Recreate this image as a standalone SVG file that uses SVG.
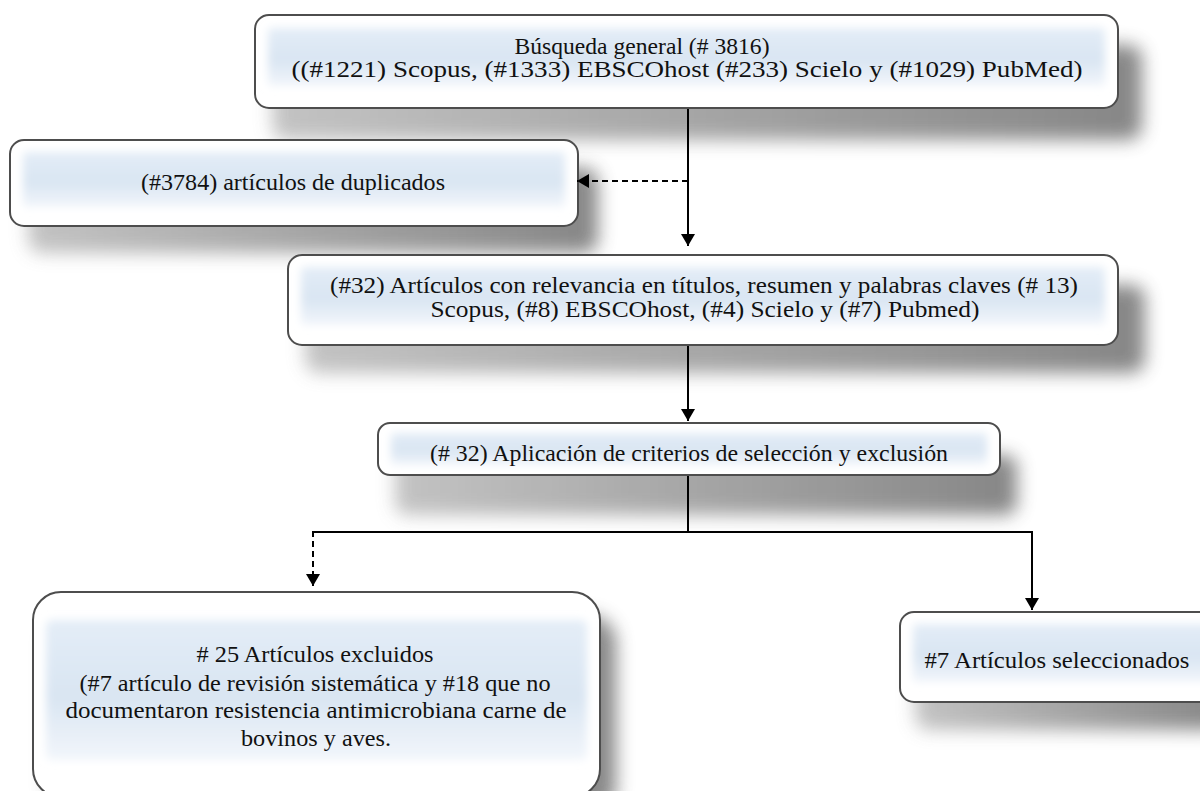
<svg xmlns="http://www.w3.org/2000/svg" width="1200" height="791" viewBox="0 0 1200 791">
<defs>
<filter id="shadow" x="-20%" y="-50%" width="140%" height="200%"><feGaussianBlur stdDeviation="9"/></filter>
<filter id="soft" x="-10%" y="-30%" width="120%" height="160%"><feGaussianBlur stdDeviation="4"/></filter>
<linearGradient id="panel" x1="0" y1="0" x2="0" y2="1">
<stop offset="0" stop-color="#e4edf7"/>
<stop offset="0.55" stop-color="#d9e5f2"/>
<stop offset="1" stop-color="#f2f6fb"/>
</linearGradient>
<linearGradient id="shg" x1="0" y1="0" x2="1" y2="0">
<stop offset="0" stop-color="#bdbdbd"/>
<stop offset="1" stop-color="#7a7a7a"/>
</linearGradient>
<marker id="ah" viewBox="0 0 12 14" refX="12" refY="7" markerWidth="12" markerHeight="14" markerUnits="userSpaceOnUse" orient="auto">
<path d="M0,0 L12,7 L0,14 Z" fill="#000"/>
</marker>
</defs>
<style>
.sh{fill:url(#shg);opacity:0.9;filter:url(#shadow)}
.box{fill:#ffffff;stroke:#4d4d4d;stroke-width:2}
.pan{fill:url(#panel);filter:url(#soft)}
.t{font-family:"Liberation Serif","Times New Roman",serif;font-size:23px;fill:#111;text-anchor:middle}
.ln{fill:none;stroke:#000;stroke-width:2}
.dash{stroke-dasharray:6 4}
</style>
<rect width="1200" height="791" fill="#fff"/>

<g id="n1">
<rect class="sh" x="272" y="45" width="870" height="95" rx="14"/>
<rect class="box" x="255" y="15" width="863" height="93" rx="14"/>
<rect class="pan" x="268" y="28" width="837" height="58" rx="4"/>
<text class="t" x="642" y="54" textLength="255" lengthAdjust="spacingAndGlyphs">Búsqueda general (# 3816)</text>
<text class="t" x="687" y="77" textLength="791" lengthAdjust="spacingAndGlyphs">((#1221) Scopus, (#1333) EBSCOhost (#233) Scielo y (#1029) PubMed)</text>
</g>

<g id="n2">
<rect class="sh" x="28" y="168" width="570" height="85" rx="14"/>
<rect class="box" x="10" y="140" width="568" height="86" rx="14"/>
<rect class="pan" x="23" y="152" width="542" height="55" rx="4"/>
<text class="t" x="293" y="190" textLength="304" lengthAdjust="spacingAndGlyphs">(#3784) artículos de duplicados</text>
</g>

<g id="n3">
<rect class="sh" x="305" y="285" width="840" height="88" rx="14"/>
<rect class="box" x="288" y="255" width="830" height="90" rx="14"/>
<rect class="pan" x="301" y="267" width="804" height="58" rx="4"/>
<text class="t" x="704" y="293" textLength="748" lengthAdjust="spacingAndGlyphs">(#32) Artículos con relevancia en títulos, resumen y palabras claves (# 13)</text>
<text class="t" x="705" y="317" textLength="549" lengthAdjust="spacingAndGlyphs">Scopus, (#8) EBSCOhost, (#4) Scielo y (#7) Pubmed)</text>
</g>

<g id="n4">
<rect class="sh" x="395" y="455" width="622" height="60" rx="12"/>
<rect class="box" x="378" y="423" width="622" height="52" rx="12"/>
<rect class="pan" x="391" y="433" width="596" height="32" rx="4"/>
<text class="t" x="689" y="461" textLength="518" lengthAdjust="spacingAndGlyphs">(# 32) Aplicación de criterios de selección y exclusión</text>
</g>

<g id="n5">
<rect class="sh" x="48" y="615" width="568" height="200" rx="28"/>
<rect class="box" x="33" y="592" width="567" height="205" rx="28"/>
<rect class="pan" x="46" y="620" width="541" height="140" rx="6"/>
<text class="t" x="315" y="662" textLength="237" lengthAdjust="spacingAndGlyphs"># 25 Artículos excluidos</text>
<text class="t" x="315" y="691" textLength="471" lengthAdjust="spacingAndGlyphs">(#7 artículo de revisión sistemática y #18 que no</text>
<text class="t" x="316" y="718" textLength="501" lengthAdjust="spacingAndGlyphs">documentaron resistencia antimicrobiana carne de</text>
<text class="t" x="316" y="746" textLength="150" lengthAdjust="spacingAndGlyphs">bovinos y aves.</text>
</g>

<g id="n6">
<rect class="sh" x="915" y="640" width="310" height="90" rx="14"/>
<rect class="box" x="900" y="612" width="320" height="90" rx="14"/>
<rect class="pan" x="913" y="624" width="300" height="58" rx="4"/>
<text class="t" x="1057" y="668" textLength="265" lengthAdjust="spacingAndGlyphs">#7 Artículos seleccionados</text>
</g>

<g id="connectors">
<line class="ln" x1="688" y1="109" x2="688" y2="246" marker-end="url(#ah)"/>
<line class="ln dash" x1="688" y1="181" x2="577" y2="181" marker-end="url(#ah)"/>
<line class="ln" x1="688" y1="346" x2="688" y2="421" marker-end="url(#ah)"/>
<polyline class="ln" points="688,476 688,532"/>
<polyline class="ln" points="313,532 1032,532"/>
<line class="ln dash" x1="313" y1="531" x2="313" y2="586" marker-end="url(#ah)"/>
<line class="ln" x1="1032" y1="531" x2="1032" y2="610" marker-end="url(#ah)"/>
</g>
</svg>
